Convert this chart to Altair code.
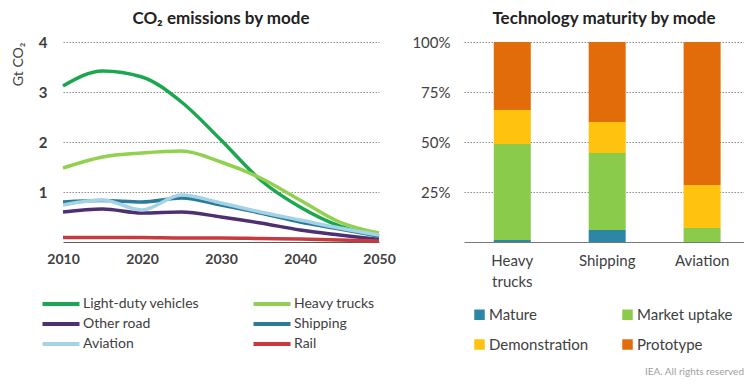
import altair as alt
import pandas as pd

# ---- Left panel data: CO2 emissions by mode (Gt CO2) ----
years = [2010, 2015, 2020, 2025, 2030, 2035, 2040, 2045, 2050]
light_duty = [3.12, 3.42, 3.30, 2.80, 2.04, 1.24, 0.70, 0.32, 0.12]
heavy_trucks = [1.48, 1.70, 1.78, 1.82, 1.60, 1.28, 0.84, 0.40, 0.18]
other_road = [0.60, 0.66, 0.58, 0.60, 0.50, 0.38, 0.24, 0.14, 0.05]
shipping = [0.80, 0.83, 0.80, 0.88, 0.74, 0.58, 0.40, 0.26, 0.12]
aviation = [0.74, 0.84, 0.64, 0.94, 0.78, 0.60, 0.44, 0.28, 0.14]
rail = [0.09, 0.09, 0.09, 0.08, 0.08, 0.07, 0.06, 0.04, 0.02]

modes = ["Light-duty vehicles", "Heavy trucks", "Other road", "Shipping", "Aviation", "Rail"]
mode_colors = ["#1BA750", "#92D050", "#4E2F72", "#2B7A99", "#A4D3E6", "#C73A3F"]
series = [light_duty, heavy_trucks, other_road, shipping, aviation, rail]
# legend fills column by column: order so that it reads row by row like the reference
legend_mode_order = ["Light-duty vehicles", "Other road", "Aviation", "Heavy trucks", "Shipping", "Rail"]

# ---- Right panel data: Technology maturity by mode (%) ----
tech_modes = ["Heavy trucks", "Shipping", "Aviation"]
stages = ["Mature", "Market uptake", "Demonstration", "Prototype"]
stage_colors = ["#2D86A6", "#8BCB4C", "#FFC20E", "#E36C0A"]
mature = [1, 6, 0]
market_uptake = [48, 38.5, 7]
demonstration = [17, 15.5, 21.5]
prototype = [34, 40, 71.5]
legend_stage_order = ["Mature", "Demonstration", "Market uptake", "Prototype"]

FONT = "Lato"
TEXT = "#404040"
GRID = "#8a8a8a"

rows = []
for m, vals in zip(modes, series):
    for y, v in zip(years, vals):
        rows.append({"year": y, "mode": m, "value": v})
df_lines = pd.DataFrame(rows)

rows = []
for i, (s, vals) in enumerate(zip(stages, [mature, market_uptake, demonstration, prototype])):
    for m, v in zip(tech_modes, vals):
        rows.append({"mode": m, "stage": s, "idx": i, "share": v})
df_bars = pd.DataFrame(rows)

color_by_mode = dict(zip(modes, mode_colors))
color_by_stage = dict(zip(stages, stage_colors))

left = alt.Chart(df_lines).mark_line(strokeWidth=3.5, interpolate="monotone").encode(
    x=alt.X("year:Q", scale=alt.Scale(domain=[2010, 2050], nice=False),
            axis=alt.Axis(values=[2010, 2020, 2030, 2040, 2050], format="d", title=None,
                          grid=False, ticks=False, domain=True, domainColor="#5a5a5a",
                          labelFlush=False, labelPadding=10, labelFontSize=14,
                          labelFont=FONT, labelColor=TEXT, labelFontWeight="bold")),
    y=alt.Y("value:Q", scale=alt.Scale(domain=[0, 4], nice=False),
            axis=alt.Axis(values=[1, 2, 3, 4], title="Gt CO₂", titleAnchor="end",
                          titleFont=FONT, titleFontSize=14, titleFontWeight="normal",
                          titleColor=TEXT, titlePadding=13,
                          grid=True, gridDash=[1.5, 1.5], gridColor=GRID, gridWidth=1,
                          ticks=False, domain=False, labelPadding=16,
                          labelFontSize=15, labelFont=FONT, labelColor=TEXT,
                          labelFontWeight="bold")),
    color=alt.Color("mode:N",
                    scale=alt.Scale(domain=legend_mode_order,
                                    range=[color_by_mode[m] for m in legend_mode_order]),
                    legend=alt.Legend(title=None, orient="none", legendX=-14, legendY=250,
                                      columns=2, columnPadding=45, rowPadding=0,
                                      symbolType="M-1.85,0L1.85,0", symbolSize=400,
                                      symbolStrokeWidth=4, labelFont=FONT,
                                      labelFontSize=14, labelColor=TEXT, labelOffset=10)),
).properties(
    width=316, height=200,
    title=alt.TitleParams("CO₂ emissions by mode", font=FONT, fontSize=17,
                          fontWeight="bold", color="#222222", offset=7),
)

bars = alt.Chart(df_bars).mark_bar().encode(
    x=alt.X("mode:N", sort=tech_modes,
            scale=alt.Scale(paddingInner=0.61, paddingOuter=0.28, align=0.56),
            axis=alt.Axis(title=None, labelAngle=0, ticks=False, domain=True,
                          domainColor="#7a7a7a", labelPadding=11,
                          labelExpr="split(datum.label, ' ')", labelLineHeight=21,
                          labelFont=FONT, labelFontSize=15, labelColor=TEXT)),
    y=alt.Y("share:Q", stack="zero", scale=alt.Scale(domain=[0, 100], nice=False),
            axis=alt.Axis(values=[25, 50, 75, 100], labelExpr="datum.value + '%'",
                          title=None, grid=True, gridDash=[1.5, 1.5], gridColor=GRID,
                          ticks=False, domain=False, labelPadding=14,
                          labelFont=FONT, labelFontSize=15, labelColor=TEXT)),
    color=alt.Color("stage:N",
                    scale=alt.Scale(domain=legend_stage_order,
                                    range=[color_by_stage[s] for s in legend_stage_order]),
                    legend=alt.Legend(title=None, orient="none", legendX=8, legendY=265,
                                      columns=2, columnPadding=31, rowPadding=14,
                                      symbolType="square", symbolSize=110,
                                      labelFont=FONT, labelFontSize=15, labelColor=TEXT,
                                      labelOffset=2)),
    order=alt.Order("idx:Q", sort="ascending"),
)

footer = alt.Chart(pd.DataFrame({"t": ["IEA. All rights reserved"]})).mark_text(
    align="right", baseline="middle", font=FONT, fontSize=10, color="#a0a0a0"
).encode(text="t:N", x=alt.value(280), y=alt.value(330))

right = alt.layer(bars, footer).properties(
    width=280, height=200,
    title=alt.TitleParams("Technology maturity by mode", font=FONT, fontSize=17,
                          fontWeight="bold", color="#222222", offset=7),
)

chart = alt.hconcat(left, right, spacing=15).resolve_scale(color="independent").properties(
    padding={"left": 3, "top": 2, "right": 0, "bottom": 0},
).configure_view(stroke=None)

chart.save("out.html", embed_options={"renderer": "svg", "actions": False})
